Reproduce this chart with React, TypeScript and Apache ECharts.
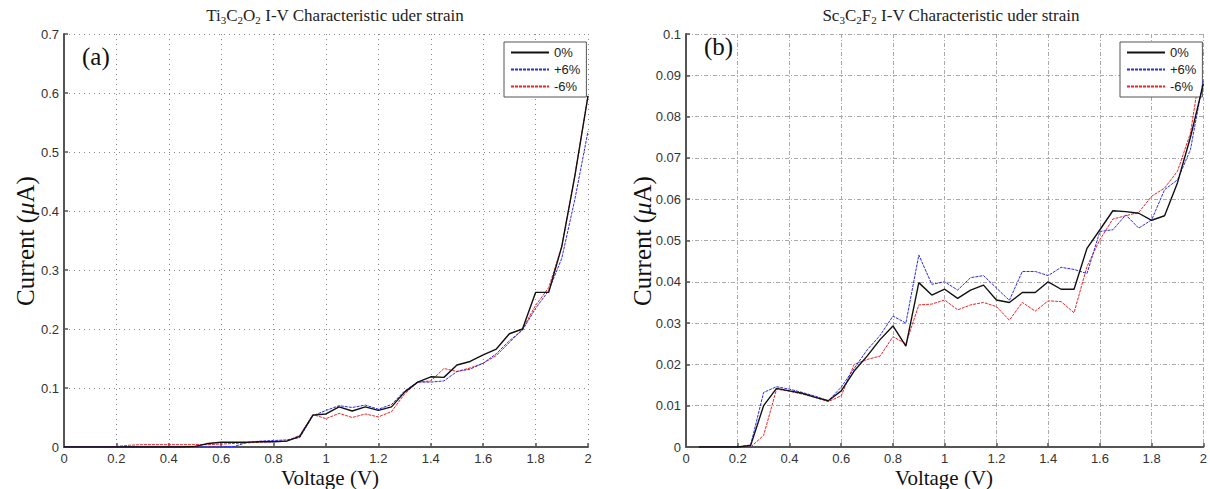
import React, { useEffect, useRef } from "react";
import * as echarts from "echarts";

// ---- Data ----
const voltageA = [
  0, 0.05, 0.1, 0.15, 0.2, 0.25, 0.3, 0.35, 0.4, 0.45, 0.5, 0.55, 0.6, 0.65, 0.7, 0.75, 0.8, 0.85, 0.9, 0.95,
  1.0, 1.05, 1.1, 1.15, 1.2, 1.25, 1.3, 1.35, 1.4, 1.45, 1.5, 1.55, 1.6, 1.65, 1.7, 1.75, 1.8, 1.85, 1.9, 1.95, 2.0,
];
const tiStrain0 = [
  0, 0, 0, 0, 0, 0, 0, 0, 0, 0, 0.001, 0.006, 0.008, 0.008, 0.008, 0.009, 0.009, 0.01, 0.018, 0.054,
  0.056, 0.068, 0.061, 0.068, 0.062, 0.068, 0.093, 0.11, 0.119, 0.118, 0.139, 0.145, 0.156, 0.166, 0.192, 0.2,
  0.262, 0.262, 0.34, 0.46, 0.595,
];
const tiStrainPlus6 = [
  0, 0, 0, 0, 0, 0, 0, 0, 0, 0, 0, 0, 0, 0.001, 0.008, 0.01, 0.011, 0.012, 0.016, 0.053,
  0.062, 0.07, 0.067, 0.071, 0.064, 0.072, 0.095, 0.11, 0.11, 0.112, 0.128, 0.132, 0.142, 0.158, 0.18, 0.198,
  0.235, 0.265, 0.32, 0.42, 0.535,
];
const tiStrainMinus6 = [
  0, 0, 0, 0, 0.001, 0.003, 0.004, 0.004, 0.004, 0.004, 0.004, 0.004, 0.005, 0.006, 0.007, 0.008, 0.009, 0.01, 0.02, 0.055,
  0.048, 0.057, 0.05, 0.056, 0.051, 0.06, 0.09, 0.11, 0.112, 0.133, 0.128, 0.134, 0.142, 0.155, 0.177, 0.2,
  0.24, 0.27, 0.34, 0.46, 0.595,
];

const voltageB = [
  0.05, 0.1, 0.15, 0.2, 0.25, 0.3, 0.35, 0.4, 0.45, 0.5, 0.55, 0.6, 0.65, 0.7, 0.75, 0.8, 0.85, 0.9, 0.95,
  1.0, 1.05, 1.1, 1.15, 1.2, 1.25, 1.3, 1.35, 1.4, 1.45, 1.5, 1.55, 1.6, 1.65, 1.7, 1.75, 1.8, 1.85, 1.9, 1.95, 2.0,
];
const scStrain0 = [
  0, 0, 0, 0, 0.0004, 0.01, 0.0142, 0.0136, 0.013, 0.012, 0.0112, 0.0136, 0.0184, 0.022, 0.026, 0.0293, 0.0244, 0.0398, 0.0368,
  0.0382, 0.036, 0.038, 0.0392, 0.0356, 0.035, 0.0374, 0.0374, 0.04, 0.0382, 0.0382, 0.0481, 0.0526, 0.0572, 0.057, 0.0566,
  0.0549, 0.056, 0.064, 0.075, 0.088,
];
const scStrainPlus6 = [
  0, 0, 0, 0, 0.0005, 0.0132, 0.0146, 0.014, 0.0132, 0.0123, 0.0112, 0.0145, 0.019, 0.0235, 0.027, 0.0317, 0.03, 0.0465, 0.0394,
  0.04, 0.038, 0.041, 0.0415, 0.0385, 0.0355, 0.0425, 0.0425, 0.0415, 0.0435, 0.043, 0.042, 0.0522, 0.0526, 0.0562, 0.053,
  0.055, 0.0623, 0.0647, 0.072, 0.089,
];
const scStrainMinus6 = [
  0, 0, 0, 0, 0, 0.0028, 0.014, 0.0135, 0.0128, 0.012, 0.011, 0.0124, 0.02, 0.0212, 0.022, 0.0267, 0.025, 0.0344, 0.0346,
  0.0356, 0.0332, 0.0344, 0.035, 0.034, 0.0307, 0.035, 0.0329, 0.0354, 0.0352, 0.0325, 0.0437, 0.0502, 0.0552, 0.056, 0.0568,
  0.0607, 0.0627, 0.0668, 0.076, 0.096,
];

const seriesNames = ["0%", "+6%", "-6%"];
const seriesColors = ["#111111", "#2a2af0", "#ee2222"];

const SERIF = "'Liberation Serif', 'DejaVu Serif', serif";
const SANS = "'Liberation Sans', Arial, sans-serif";

export default function App() {
  const ref = useRef<HTMLDivElement>(null);

  useEffect(() => {
    if (!ref.current) return;
    const chart = echarts.init(ref.current, null, { renderer: "svg" });

    const pair = (xs: number[], ys: number[]) => xs.map((x, i) => [x, ys[i]]);

    const lineStyles = [
      { color: seriesColors[0], width: 1.4, type: "solid" as const },
      { color: seriesColors[1], width: 1, type: [3, 1] as any },
      { color: seriesColors[2], width: 1, type: [3, 1] as any },
    ];

    const mkSeries = (name: string, idx: number, data: number[][], axis: number) => ({
      name,
      type: "line" as const,
      xAxisIndex: axis,
      yAxisIndex: axis,
      data,
      symbol: "none",
      showSymbol: false,
      lineStyle: lineStyles[idx],
      itemStyle: { color: seriesColors[idx] },
      z: 3 - idx + 2,
    });

    const axisCommon = {
      axisLine: { show: true, lineStyle: { color: "#555", width: 2 } },
      axisTick: { show: true, inside: true, length: 4, lineStyle: { color: "#555", width: 1.5 } },
      axisLabel: { color: "#333", fontFamily: SANS, fontSize: 13 },
    };

    const xAxisFor = (gridIndex: number, gridType: any, gridColor: string) => ({
      type: "value" as const,
      gridIndex,
      min: 0,
      max: 2,
      interval: 0.2,
      ...axisCommon,
      axisLabel: { ...axisCommon.axisLabel, margin: 5, formatter: (v: number) => String(+v.toFixed(1)) },
      splitLine: { show: true, lineStyle: { color: gridColor, type: gridType, width: 1 } },
    });

    const legendFor = (left: number) => ({
      left,
      top: 42,
      orient: "vertical" as const,
      itemWidth: 38,
      itemHeight: 10,
      itemGap: 4,
      padding: [4, 6, 4, 6],
      borderColor: "#555",
      borderWidth: 1,
      borderRadius: 0,
      backgroundColor: "#fff",
      itemStyle: { opacity: 0, borderWidth: 0 },
      textStyle: { fontFamily: SANS, fontSize: 13, color: "#222" },
      data: seriesNames,
      selectedMode: false,
    });

    const titleRich = {
      base: { fontFamily: SERIF, fontSize: 17, fontWeight: "normal", color: "#222" },
      sub: { fontFamily: SERIF, fontSize: 11, fontWeight: "normal", color: "#222", padding: [8, 0, 0, 0] },
    };

    const axisName = (x: number, y: number) => ({
      type: "text",
      x,
      y,
      rotation: Math.PI / 2,
      style: {
        text: "{n|Current (}{i|μ}{n|A)}",
        align: "center",
        verticalAlign: "middle",
        rich: {
          n: { font: `25px ${SERIF}`, fill: "#111" },
          i: { font: `italic 25px ${SERIF}`, fill: "#111" },
        },
      },
    });

    const xName = (x: number) => ({
      type: "text",
      x,
      y: 467,
      style: { text: "Voltage (V)", font: `21px ${SERIF}`, fill: "#111", align: "center", verticalAlign: "top" },
    });

    const option: any = {
      animation: false,
      backgroundColor: "#fff",
      title: [
        {
          text: "{base|Ti}{sub|3}{base|C}{sub|2}{base|O}{sub|2}{base| I-V Characteristic uder strain}",
          left: 330,
          top: 1,
          textAlign: "center",
          textStyle: { fontWeight: "normal", rich: titleRich },
        },
        {
          text: "{base|Sc}{sub|3}{base|C}{sub|2}{base|F}{sub|2}{base| I-V Characteristic uder strain}",
          left: 946,
          top: 1,
          textAlign: "center",
          textStyle: { fontWeight: "normal", rich: titleRich },
        },
      ],
      legend: [legendFor(504), legendFor(1120)],
      grid: [
        { left: 64, top: 34, width: 524, height: 413 },
        { left: 686, top: 34, width: 520, height: 413 },
      ],
      xAxis: [xAxisFor(0, [1, 4], "#888"), xAxisFor(1, [4, 2, 1, 2], "#aaa")],
      yAxis: [
        {
          type: "value",
          gridIndex: 0,
          min: 0,
          max: 0.7,
          interval: 0.1,
          ...axisCommon,
          axisLabel: { ...axisCommon.axisLabel, margin: 5, formatter: (v: number) => String(+v.toFixed(1)) },
          splitLine: { show: true, lineStyle: { color: "#888", type: [1, 4], width: 1 } },
        },
        {
          type: "value",
          gridIndex: 1,
          min: 0,
          max: 0.1,
          interval: 0.01,
          ...axisCommon,
          axisLabel: { ...axisCommon.axisLabel, margin: 5, formatter: (v: number) => String(+v.toFixed(2)) },
          splitLine: { show: true, lineStyle: { color: "#aaa", type: [4, 2, 1, 2], width: 1 } },
        },
      ],
      graphic: [
        { type: "text", left: 82, top: 44, style: { text: "(a)", font: `25px ${SERIF}`, fill: "#111" } },
        { type: "text", left: 704, top: 34, style: { text: "(b)", font: `25px ${SERIF}`, fill: "#111" } },
        axisName(25, 241),
        axisName(642, 241),
        xName(330),
        xName(944),
      ],
      series: [
        mkSeries(seriesNames[0], 0, pair(voltageA, tiStrain0), 0),
        mkSeries(seriesNames[1], 1, pair(voltageA, tiStrainPlus6), 0),
        mkSeries(seriesNames[2], 2, pair(voltageA, tiStrainMinus6), 0),
        mkSeries(seriesNames[0], 0, pair(voltageB, scStrain0), 1),
        mkSeries(seriesNames[1], 1, pair(voltageB, scStrainPlus6), 1),
        mkSeries(seriesNames[2], 2, pair(voltageB, scStrainMinus6), 1),
      ],
    };

    chart.setOption(option);
    return () => chart.dispose();
  }, []);

  return (
    <div
      ref={ref}
      style={{ position: "absolute", left: 0, top: 0, width: 1210, height: 489 }}
    />
  );
}
